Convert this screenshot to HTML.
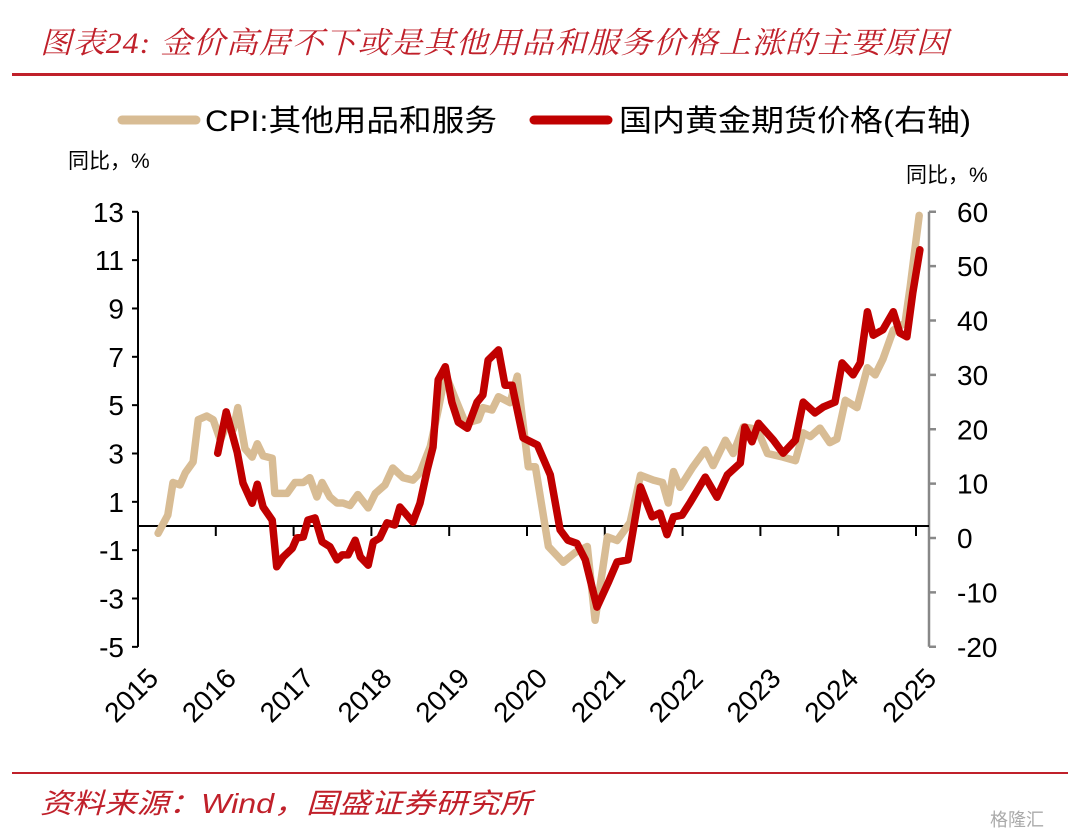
<!DOCTYPE html>
<html><head><meta charset="utf-8">
<style>
html,body{margin:0;padding:0;background:#fff;}
body{width:1080px;height:834px;position:relative;overflow:hidden;font-family:"Liberation Sans","Noto Sans CJK SC",sans-serif;}
.t{position:absolute;white-space:nowrap;}
</style></head><body>
<div class="t" style="left:40px;top:18px;font-size:30px;color:#C0202A;font-style:italic;font-family:'Liberation Serif','Noto Serif CJK SC',serif;letter-spacing:1px;transform:scaleX(1.06);transform-origin:left;">图表24: 金价高居不下或是其他用品和服务价格上涨的主要原因</div>
<div style="position:absolute;left:12px;top:73px;width:1056px;height:3px;background:#C0202A;"></div>
<svg id="chart" width="1080" height="834" style="position:absolute;left:0;top:0;">
</svg>
<div style="position:absolute;left:12px;top:772px;width:1056px;height:2px;background:#C0202A;"></div>
<div class="t" style="left:40px;top:782px;font-size:28px;color:#C0202A;font-style:italic;font-family:'Liberation Sans','Noto Sans CJK SC',sans-serif;transform:scaleX(1.15);transform-origin:left;">资料来源：Wind，国盛证券研究所</div>
<div class="t" style="left:990px;top:806px;font-size:18px;color:#aaa;">格隆汇</div>
<script>
const years = ["2015","2016","2017","2018","2019","2020","2021","2022","2023","2024","2025"];
const leftTicks = [13,11,9,7,5,3,1,-1,-3,-5];
const rightTicks = [60,50,40,30,20,10,0,-10,-20];
const cpiMonths = [3.1,4.6,5.4,6.5,7.3,8.5,9.3,10.6,11.6,12.7,13.7,14.7,15.4,16.5,17.6,18.4,19.3,20.7,21.1,23.0,24.2,25.5,26.5,27.6,28.4,29.6,30.7,31.6,32.7,33.9,35.5,36.6,38.1,39.3,40.9,42.4,43.5,45.1,46.3,47.4,48.9,50.5,52.5,53.2,54.6,55.6,57.4,58.5,60.2,61.3,63.3,65.6,67.4,69.3,70.5,72.4,73.9,75.9,77.5,79.5,80.9,81.8,82.6,83.6,85.6,87.5,88.7,90.6,91.8,93.4,95.5,97.1,99.5,101.4,102.6,103.7,105.2,106.7,107.8,109.1,110.9,112.5,113.7,114.9,116.5,118.3,119.1,120.5];
const cpiValues = [-0.3,0.45,1.8,1.7,2.2,2.65,4.4,4.55,4.4,3.55,4.2,4.0,4.9,3.2,2.85,3.4,2.9,2.8,1.35,1.35,1.8,1.8,2.0,1.2,1.8,1.2,0.95,0.95,0.85,1.3,0.75,1.35,1.7,2.4,2.0,1.9,2.2,3.3,4.8,6.3,5.3,4.25,4.4,4.9,4.8,5.35,5.1,6.2,2.45,2.45,-0.85,-1.5,-1.1,-0.85,-3.9,-0.45,-0.6,0.15,2.1,1.9,1.8,0.95,2.25,1.6,2.45,3.15,2.5,3.55,3.0,4.1,4.0,3.0,2.85,2.7,3.85,3.7,4.05,3.45,3.6,5.2,4.9,6.55,6.25,6.9,8.1,8.4,9.9,12.85];
const goldMonths = [12.3,13.6,15.3,16.2,17.6,18.4,19.3,20.7,21.4,22.4,23.8,24.5,25.5,26.2,27.3,28.4,29.6,30.7,31.5,32.4,33.5,34.3,35.5,36.3,37.3,38.4,39.6,40.4,42.4,43.5,44.6,45.5,46.3,47.4,48.4,49.4,50.8,52.3,53.2,54.0,55.6,56.6,57.7,59.4,61.6,63.6,65.1,66.3,67.7,69.0,70.8,72.5,73.9,75.6,77.5,79.3,80.5,81.6,82.6,83.9,85.2,87.5,89.3,90.9,92.9,93.6,94.7,95.7,98.0,99.5,101.4,102.6,104.4,105.7,107.5,108.6,110.3,111.4,112.5,113.4,114.9,116.5,117.5,118.6,119.5,120.6];
const goldValues = [15.6,23.2,15.8,10.1,6.4,9.9,5.7,3.3,-5.3,-3.5,-1.9,0,0.2,3.3,3.7,-0.7,-1.6,-4.0,-3.1,-3.1,-0.4,-3.5,-5.0,-0.7,0,2.8,2.4,5.7,2.9,6.4,12.5,16.7,29.1,31.5,25.0,21.3,20.2,25.0,26.3,32.7,34.6,28.1,28.1,18.4,17.1,11.6,1.5,-0.4,-1.0,-4.0,-12.7,-8.3,-4.4,-4.0,9.4,3.9,4.6,0.6,3.9,4.2,6.6,11.2,7.5,11.6,13.8,20.4,17.7,21.1,18.0,15.6,18.0,25.0,23.0,24.1,25.0,32.2,30.0,32.2,41.6,37.3,38.3,41.6,37.7,37.0,45.1,53.0];

const svg = document.getElementById('chart');
const NS = 'http://www.w3.org/2000/svg';
const X0 = 138, PX_YEAR = 77.8;
const xM = m => X0 + m * PX_YEAR / 12;
const xY = i => X0 + i * PX_YEAR;
const yL = v => 526 - v * 24.17;
const yR = v => 538 - v * 5.4375;
function mk(tag, attrs, parent){
  const e = document.createElementNS(NS, tag);
  for (const k in attrs) e.setAttribute(k, attrs[k]);
  (parent||svg).appendChild(e);
  return e;
}
const FONT = '"Liberation Sans","Noto Sans CJK SC",sans-serif';
let e;
e = mk('line',{x1:122,y1:120,x2:196,y2:120,stroke:'#D8BC94','stroke-width':9,'stroke-linecap':'round'});


e = mk('text',{x:205,y:131,'font-size':30,'font-family':FONT,fill:'#000',textLength:292,lengthAdjust:'spacingAndGlyphs'}); e.textContent='CPI:其他用品和服务';


e = mk('line',{x1:534,y1:120,x2:608,y2:120,stroke:'#C00000','stroke-width':9,'stroke-linecap':'round'});


e = mk('text',{x:619,y:131,'font-size':30,'font-family':FONT,fill:'#000',textLength:352,lengthAdjust:'spacingAndGlyphs'}); e.textContent='国内黄金期货价格(右轴)';


e = mk('text',{x:68,y:168,'font-size':21,'font-family':FONT}); e.textContent='同比，%';


e = mk('text',{x:906,y:182,'font-size':21,'font-family':FONT}); e.textContent='同比，%';


e = mk('line',{x1:X0,y1:yL(13),x2:X0,y2:yL(-5),stroke:'#000','stroke-width':2});


leftTicks.forEach(v=>{
  const t = mk('line',{x1:X0-6,y1:yL(v),x2:X0,y2:yL(v),stroke:'#000','stroke-width':2});
  
  
  const l = mk('text',{x:124,y:yL(v)+10,'font-size':28,'font-family':FONT,'text-anchor':'end'});
  l.textContent = v;
  
  
});
const XR = 929;
e = mk('line',{x1:XR,y1:yR(60),x2:XR,y2:yR(-20),stroke:'#888','stroke-width':2.5});


rightTicks.forEach(v=>{
  const t = mk('line',{x1:XR,y1:yR(v),x2:XR+7,y2:yR(v),stroke:'#888','stroke-width':2.5});
  
  
  const l = mk('text',{x:957,y:yR(v)+10,'font-size':28,'font-family':FONT});
  l.textContent = v;
  
  
});
e = mk('line',{x1:X0,y1:yL(0),x2:XR,y2:yL(0),stroke:'#000','stroke-width':2});


years.forEach((y,i)=>{
  const tx = xY(i);
  const t = mk('line',{x1:tx,y1:yL(0),x2:tx,y2:yL(0)+10,stroke:'#000','stroke-width':2});
  
  
  const l = mk('text',{x:0,y:0,'font-size':28,'font-family':FONT,'text-anchor':'end',transform:`translate(${tx+22},${680}) rotate(-45)`});
  l.textContent = y;
  
  
});
function path(ms, vs, yf){
  return ms.map((m,i)=>(i?'L':'M')+xM(m).toFixed(1)+','+yf(vs[i]).toFixed(1)).join('');
}
e = mk('path',{d:path(cpiMonths,cpiValues,yL),fill:'none',stroke:'#D8BC94','stroke-width':7.5,'stroke-linejoin':'round','stroke-linecap':'round'});


e = mk('path',{d:path(goldMonths,goldValues,yR),fill:'none',stroke:'#C00000','stroke-width':7.5,'stroke-linejoin':'round','stroke-linecap':'round'});


</script>
</body></html>
